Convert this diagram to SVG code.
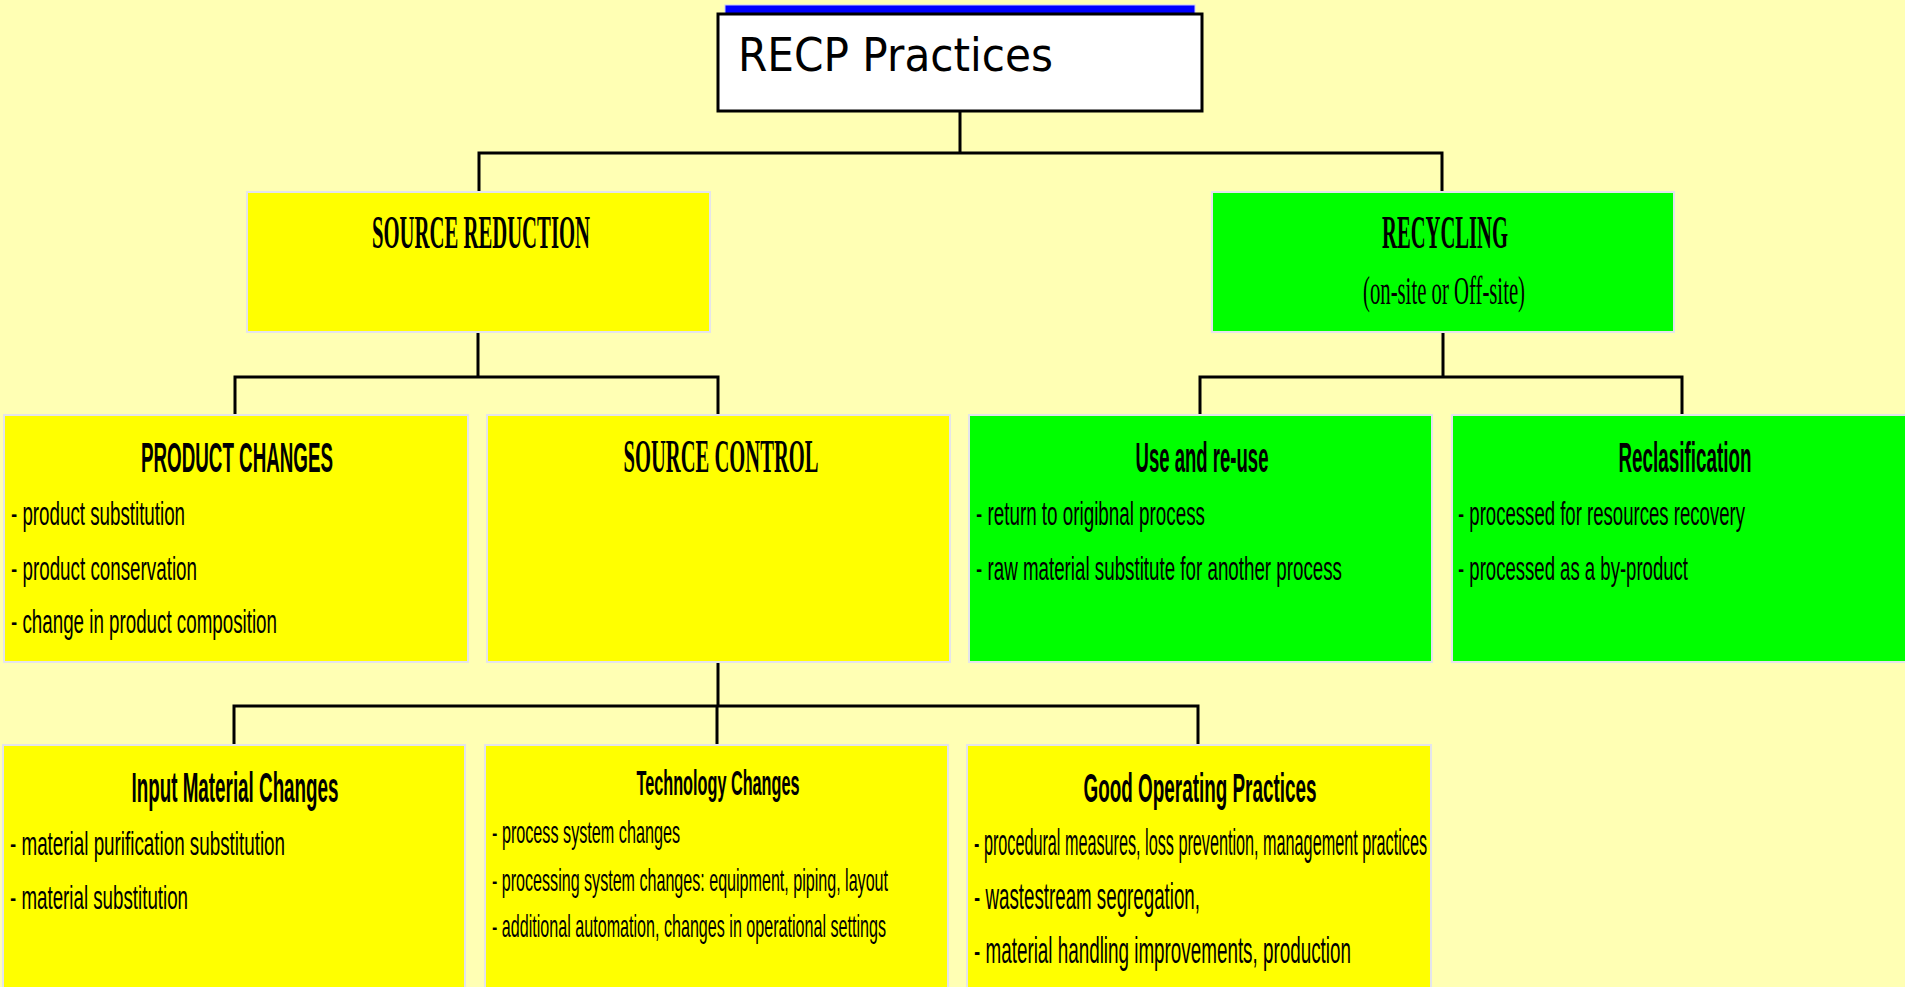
<svg xmlns="http://www.w3.org/2000/svg" width="1905" height="987" viewBox="0 0 1905 987">
  <style>
    .bg { fill: #ffffb4; }
    .yel { fill: #ffff00; stroke: #e4e4ec; stroke-width: 2; }
    .grn { fill: #00ff00; stroke: #e4e4ec; stroke-width: 2; }
    .conn { fill: none; stroke: #000; stroke-width: 3; stroke-linecap: square; }
    .serif-b { font-family: "Liberation Serif", "Times New Roman", serif; font-weight: bold; fill: #000; text-anchor: middle; }
    .serif { font-family: "Liberation Serif", "Times New Roman", serif; fill: #000; text-anchor: middle; }
    .head { font-family: "Liberation Sans", Arial, sans-serif; font-weight: bold; fill: #000; text-anchor: middle; }
    .item { font-family: "Liberation Sans", Arial, sans-serif; fill: #000; }
  </style>
  <rect class="bg" x="0" y="0" width="1905" height="987"/>

  <!-- connectors -->
  <g id="connectors">
    <path class="conn" d="M960 111 V153 M479 153 H1442 M479 153 V191 M1442 153 V191"/>
    <path class="conn" d="M478 332 V377 M235 377 H718 M235 377 V415 M718 377 V415"/>
    <path class="conn" d="M1443 332 V377 M1200 377 H1682 M1200 377 V415 M1682 377 V415"/>
    <path class="conn" d="M718 662 V706 M234 706 H1198 M234 706 V745 M717 706 V745 M1198 706 V745"/>
  </g>

  <!-- root -->
  <g id="recp-practices">
    <rect x="725" y="5" width="470" height="20" fill="#0000ff" stroke="#c8c8ff" stroke-width="1"/>
    <rect x="718" y="14" width="484" height="97" fill="#ffffff" stroke="#000" stroke-width="3"/>
    <text x="738" y="71" font-family="'DejaVu Sans', Verdana, sans-serif" font-size="46" fill="#000" textLength="315" lengthAdjust="spacingAndGlyphs">RECP Practices</text>
  </g>

  <g id="source-reduction">
    <rect class="yel" x="247" y="192" width="463" height="140"/>
    <text class="serif-b" x="481" y="248" font-size="46" textLength="218" lengthAdjust="spacingAndGlyphs">SOURCE REDUCTION</text>
  </g>

  <g id="recycling">
    <rect class="grn" x="1212" y="192" width="462" height="140"/>
    <text class="serif-b" x="1445" y="248" font-size="46" textLength="126" lengthAdjust="spacingAndGlyphs">RECYCLING</text>
    <text class="serif" x="1444" y="304" font-size="40" textLength="162" lengthAdjust="spacingAndGlyphs">(on-site or Off-site)</text>
  </g>

  <g id="product-changes">
    <rect class="yel" x="4" y="415" width="464" height="247"/>
    <text class="head" x="237" y="472" font-size="42" textLength="192" lengthAdjust="spacingAndGlyphs">PRODUCT CHANGES</text>
    <text class="item" x="11" y="525" font-size="34" textLength="174" lengthAdjust="spacingAndGlyphs">- product substitution</text>
    <text class="item" x="11" y="580" font-size="34" textLength="186" lengthAdjust="spacingAndGlyphs">- product conservation</text>
    <text class="item" x="11" y="633" font-size="34" textLength="266" lengthAdjust="spacingAndGlyphs">- change in product composition</text>
  </g>

  <g id="source-control">
    <rect class="yel" x="487" y="415" width="463" height="247"/>
    <text class="serif-b" x="721" y="472" font-size="46" textLength="195" lengthAdjust="spacingAndGlyphs">SOURCE CONTROL</text>
  </g>

  <g id="use-and-reuse">
    <rect class="grn" x="969" y="415" width="463" height="247"/>
    <text class="head" x="1202" y="472" font-size="42" textLength="133" lengthAdjust="spacingAndGlyphs">Use and re-use</text>
    <text class="item" x="976" y="525" font-size="34" textLength="229" lengthAdjust="spacingAndGlyphs">- return to origibnal process</text>
    <text class="item" x="976" y="580" font-size="34" textLength="366" lengthAdjust="spacingAndGlyphs">- raw material substitute for another process</text>
  </g>

  <g id="reclasification">
    <rect class="grn" x="1452" y="415" width="470" height="247"/>
    <text class="head" x="1685" y="472" font-size="42" textLength="133" lengthAdjust="spacingAndGlyphs">Reclasification</text>
    <text class="item" x="1458" y="525" font-size="34" textLength="287" lengthAdjust="spacingAndGlyphs">- processed for resources recovery</text>
    <text class="item" x="1458" y="580" font-size="34" textLength="230" lengthAdjust="spacingAndGlyphs">- processed as a by-product</text>
  </g>

  <g id="input-material-changes">
    <rect class="yel" x="3" y="745" width="462" height="250"/>
    <text class="head" x="235" y="802" font-size="42" textLength="207" lengthAdjust="spacingAndGlyphs">Input Material Changes</text>
    <text class="item" x="10" y="855" font-size="34" textLength="275" lengthAdjust="spacingAndGlyphs">- material purification substitution</text>
    <text class="item" x="10" y="909" font-size="34" textLength="178" lengthAdjust="spacingAndGlyphs">- material substitution</text>
  </g>

  <g id="technology-changes">
    <rect class="yel" x="485" y="745" width="463" height="250"/>
    <text class="head" x="718" y="795" font-size="35" textLength="163" lengthAdjust="spacingAndGlyphs">Technology Changes</text>
    <text class="item" x="492" y="843" font-size="32" textLength="188" lengthAdjust="spacingAndGlyphs">- process system changes</text>
    <text class="item" x="492" y="891" font-size="32" textLength="396" lengthAdjust="spacingAndGlyphs">- processing system changes: equipment, piping, layout</text>
    <text class="item" x="492" y="937" font-size="32" textLength="394" lengthAdjust="spacingAndGlyphs">- additional automation, changes in operational settings</text>
  </g>

  <g id="good-operating-practices">
    <rect class="yel" x="967" y="745" width="464" height="250"/>
    <text class="head" x="1200" y="802" font-size="40" textLength="233" lengthAdjust="spacingAndGlyphs">Good Operating Practices</text>
    <text class="item" x="974" y="855" font-size="36" textLength="453" lengthAdjust="spacingAndGlyphs">- procedural measures, loss prevention, management practices</text>
    <text class="item" x="974" y="909" font-size="36" textLength="226" lengthAdjust="spacingAndGlyphs">- wastestream segregation,</text>
    <text class="item" x="974" y="963" font-size="36" textLength="377" lengthAdjust="spacingAndGlyphs">- material handling improvements, production</text>
  </g>
</svg>
